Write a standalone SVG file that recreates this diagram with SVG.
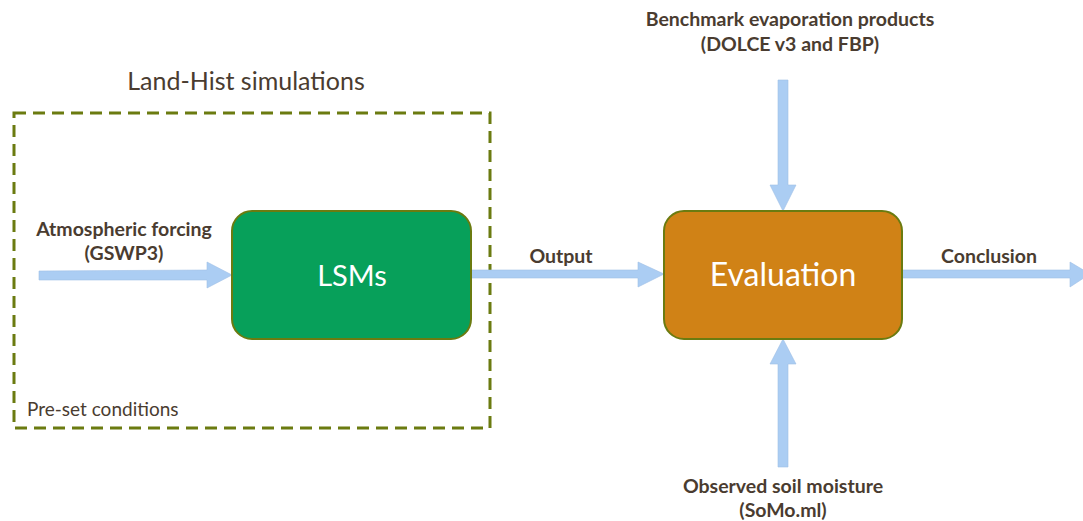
<svg xmlns="http://www.w3.org/2000/svg" width="1083" height="521" viewBox="0 0 1083 521">
<style>
.lbl{font-family:Lato,"Open Sans",sans-serif;font-weight:bold;font-size:19.5px;fill:#4a3c30;text-anchor:middle}
.arr{fill:#abcdf3;stroke:#9fc0e6;stroke-width:0.6}
.node{stroke:#6b7b10;stroke-width:2}
.ntxt{font-family:Lato,"Open Sans",sans-serif;fill:#ffffff;text-anchor:middle}
</style>
<rect width="1083" height="521" fill="#ffffff"/>
<g id="landhist">
<rect x="14" y="113" width="476" height="315" fill="none" stroke="#6b7b10" stroke-width="3" stroke-dasharray="12 7"/>
<text x="246" y="90" font-family="Lato,'Open Sans',sans-serif" font-size="25" fill="#4a3c30" text-anchor="middle">Land-Hist simulations</text>
<text x="27" y="416" font-family="Lato,'Open Sans',sans-serif" font-size="19" fill="#4a3c30">Pre-set conditions</text>
</g>
<g id="connectors">
<polygon class="arr" points="39,271 207,270 207,262 232,275 207,288 207,280 39,280"/>
<polygon class="arr" points="471,270 638,270 638,262 664,274 638,287 638,278 471,278"/>
<polygon class="arr" points="902,270 1070,270 1070,262 1090,274 1070,287 1070,278 902,278"/>
<polygon class="arr" points="778,80 788,80 788,185 796,185 783,211 770,185 778,185"/>
<polygon class="arr" points="778,467 788,467 788,364 796,364 783,339 770,364 778,364"/>
<text class="lbl" x="124" y="236">Atmospheric forcing</text>
<text class="lbl" x="124" y="260">(GSWP3)</text>
<text class="lbl" x="561" y="263">Output</text>
<text class="lbl" x="989" y="263">Conclusion</text>
</g>
<g id="lsms">
<rect class="node" x="232" y="211" width="239" height="128" rx="20" fill="#07a05a"/>
<text class="ntxt" x="352" y="286" font-size="29">LSMs</text>
</g>
<g id="evaluation">
<rect class="node" x="664" y="211" width="238" height="128" rx="20" fill="#d08216"/>
<text class="ntxt" x="783" y="286" font-size="32">Evaluation</text>
</g>
<g id="benchmark">
<text class="lbl" x="790" y="26">Benchmark evaporation products</text>
<text class="lbl" x="790" y="51">(DOLCE v3 and FBP)</text>
</g>
<g id="observed">
<text class="lbl" x="783" y="493">Observed soil moisture</text>
<text class="lbl" x="783" y="517">(SoMo.ml)</text>
</g>
</svg>
